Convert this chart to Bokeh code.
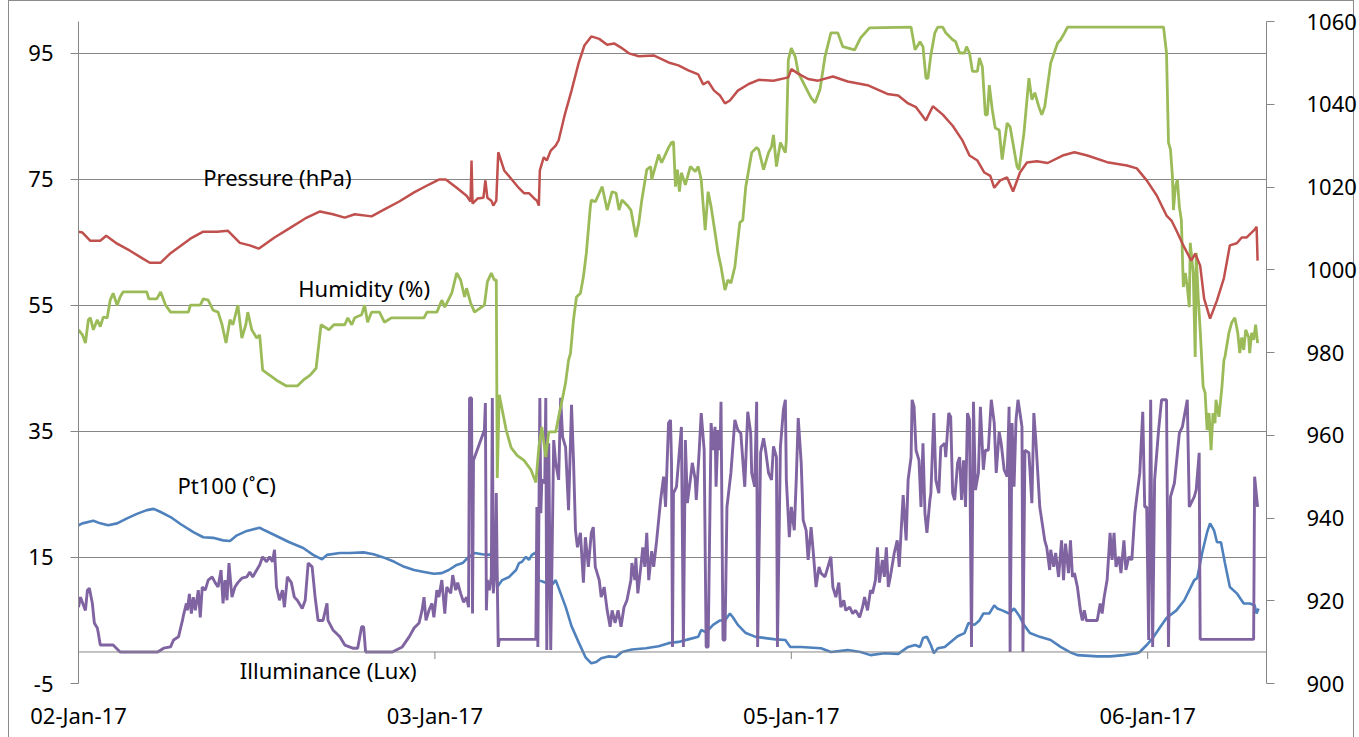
from bokeh.plotting import figure
from bokeh.models import (LinearAxis, Range1d, FixedTicker, Span, Label,
                          ColumnDataSource)
from bokeh.embed import file_html
from bokeh.resources import INLINE

# ---------------------------------------------------------------------------
# Logged sensor data, keyed by sample number (category axis).
# ---------------------------------------------------------------------------
date_ticks = [0, 360, 720, 1080]
date_labels = ["02-Jan-17", "03-Jan-17", "05-Jan-17", "06-Jan-17"]

left_ticks = [-5, 15, 35, 55, 75, 95]
right_ticks = [900, 920, 940, 960, 980, 1000, 1020, 1040, 1060]

# Pressure (hPa), secondary axis
pressure = [
    (0, 1009.2), (4, 1009.0), (12, 1007.0), (22, 1007.0), (28, 1008.2), (39, 1006.3),
    (52, 1004.6), (65, 1002.7), (72, 1001.7), (83, 1001.7), (93, 1004.0), (113, 1007.5),
    (126, 1009.2), (140, 1009.2), (151, 1009.4), (163, 1006.5), (173, 1005.9), (182, 1005.1),
    (198, 1007.8), (213, 1010.0), (229, 1012.4), (244, 1014.1), (257, 1013.4), (269, 1012.6),
    (279, 1013.4), (296, 1012.9), (309, 1014.6), (324, 1016.5), (339, 1018.7), (354, 1020.6),
    (364, 1021.8), (371, 1021.8), (382, 1019.8), (392, 1017.9), (396, 1016.5), (397, 1026.4),
    (398, 1016.0), (403, 1017.2), (409, 1017.4), (411, 1021.6), (413, 1017.4), (417, 1016.7),
    (419, 1015.5), (422, 1016.7), (424, 1028.4), (430, 1024.0), (437, 1022.0), (445, 1019.7),
    (450, 1018.5), (455, 1018.5), (460, 1017.3), (463, 1016.7), (465, 1015.5), (466, 1024.0),
    (470, 1027.2), (473, 1026.4), (477, 1028.8), (482, 1030.0), (485, 1031.3), (491, 1037.3),
    (498, 1043.3), (505, 1049.8), (511, 1054.2), (518, 1056.4), (526, 1055.8), (534, 1054.4),
    (541, 1054.7), (548, 1053.7), (556, 1052.3), (566, 1051.6), (581, 1051.8), (596, 1050.1),
    (606, 1049.4), (616, 1048.2), (626, 1047.2), (631, 1044.8), (636, 1045.5), (642, 1043.3),
    (648, 1042.1), (653, 1040.2), (658, 1040.9), (666, 1043.3), (677, 1044.9), (687, 1045.9),
    (702, 1045.7), (717, 1046.5), (720, 1048.5), (727, 1047.4), (737, 1046.1), (747, 1045.7),
    (762, 1046.7), (777, 1045.5), (797, 1044.6), (817, 1042.5), (828, 1042.1), (838, 1040.2),
    (846, 1039.3), (856, 1036.1), (863, 1039.5), (873, 1037.5), (883, 1034.8), (893, 1031.2),
    (900, 1027.6), (908, 1026.4), (915, 1023.5), (921, 1022.7), (925, 1019.8), (931, 1021.6),
    (938, 1022.3), (944, 1018.9), (951, 1023.5), (958, 1025.9), (968, 1026.2), (979, 1025.8),
    (994, 1027.6), (1006, 1028.4), (1019, 1027.6), (1039, 1026.0), (1059, 1025.2), (1069, 1024.5),
    (1079, 1021.6), (1089, 1018.0), (1099, 1013.1), (1104, 1011.9), (1109, 1009.5), (1117, 1005.4),
    (1124, 1002.2), (1128, 1003.9), (1133, 1001.0), (1137, 993.0), (1143, 988.2), (1150, 992.6),
    (1157, 998.0), (1163, 1005.9), (1170, 1006.4), (1175, 1007.8), (1180, 1007.8), (1188, 1009.7),
    (1190, 1010.4), (1191, 1002.2),
]

# Relative humidity (%)
humidity = [
    (0, 51.1), (4, 50.3), (7, 49.0), (10, 52.7), (12, 53.0), (15, 51.1), (19, 52.7), (22, 51.6),
    (25, 53.1), (29, 53.0), (32, 55.8), (35, 56.9), (39, 55.0), (42, 56.3), (45, 57.1), (69, 57.1),
    (71, 56.0), (79, 56.0), (83, 57.1), (88, 55.0), (93, 53.9), (111, 53.9), (113, 55.0), (123, 55.0),
    (126, 56.0), (131, 55.8), (136, 54.2), (141, 53.9), (145, 51.9), (149, 49.0), (153, 52.7),
    (156, 51.9), (161, 55.0), (165, 49.8), (169, 51.9), (171, 53.9), (175, 51.1), (180, 49.8),
    (183, 50.3), (186, 44.7), (193, 43.9), (200, 43.1), (210, 42.2), (221, 42.2), (227, 43.1),
    (234, 43.9), (240, 45.0), (245, 51.9), (253, 51.1), (258, 51.9), (269, 51.9), (272, 53.0),
    (276, 51.9), (279, 53.0), (286, 53.5), (289, 55.0), (292, 52.3), (296, 53.9), (304, 53.9),
    (309, 52.3), (316, 53.0), (349, 53.0), (352, 53.9), (362, 53.9), (367, 55.8), (370, 54.7),
    (377, 56.9), (382, 60.1), (386, 59.0), (390, 56.3), (392, 57.7), (396, 55.4), (400, 53.9),
    (410, 55.0), (413, 58.7), (417, 60.1), (420, 59.0), (422, 59.0), (423, 27.6), (425, 40.8),
    (432, 35.2), (437, 32.4), (443, 31.2), (450, 30.4), (457, 28.9), (462, 26.9), (465, 32.5),
    (468, 35.7), (472, 30.9), (475, 34.9), (482, 34.9), (485, 37.3), (490, 41.1), (492, 42.7),
    (495, 46.3), (497, 47.4), (500, 52.7), (503, 56.3), (507, 56.9), (510, 59.5), (513, 63.3),
    (517, 70.6), (518, 71.7), (522, 71.4), (529, 73.8), (534, 70.1), (539, 73.0), (543, 72.8),
    (546, 70.1), (549, 71.7), (554, 70.9), (558, 70.1), (563, 65.8), (566, 68.1), (569, 71.7),
    (574, 76.5), (578, 77.0), (579, 74.9), (586, 78.9), (589, 77.6), (596, 80.0), (599, 80.8),
    (601, 80.9), (603, 73.8), (605, 76.5), (607, 73.0), (609, 76.0), (613, 74.1), (618, 77.0),
    (623, 76.2), (626, 77.0), (629, 74.9), (633, 66.9), (636, 73.0), (639, 70.6), (643, 66.5),
    (646, 63.3), (649, 61.1), (653, 57.4), (656, 59.0), (659, 58.5), (663, 61.1), (668, 68.1),
    (671, 68.5), (674, 73.8), (680, 79.2), (685, 80.0), (687, 79.7), (692, 76.5), (697, 79.2),
    (700, 80.1), (702, 82.0), (705, 77.0), (709, 80.8), (714, 79.2), (715, 81.2), (717, 93.9),
    (720, 95.8), (724, 94.4), (727, 91.9), (734, 89.7), (740, 87.9), (744, 87.1), (749, 89.2),
    (754, 94.4), (760, 98.2), (767, 98.2), (772, 96.0), (784, 95.5), (790, 97.4), (799, 99.0),
    (841, 99.1), (845, 95.5), (850, 96.8), (853, 96.0), (856, 91.0), (858, 91.0), (861, 94.7),
    (865, 98.2), (868, 99.1), (873, 99.1), (876, 98.2), (883, 97.1), (886, 96.8), (890, 95.0),
    (895, 95.0), (897, 96.0), (900, 95.0), (903, 92.1), (908, 92.1), (910, 94.2), (913, 92.8),
    (916, 85.2), (918, 85.2), (920, 89.9), (923, 86.0), (926, 83.1), (930, 82.8), (933, 78.1),
    (938, 83.9), (941, 83.3), (945, 79.7), (948, 77.0), (950, 76.5), (955, 82.3), (960, 91.0),
    (963, 87.6), (966, 88.7), (970, 86.5), (973, 85.2), (976, 86.5), (982, 93.4), (989, 96.6),
    (992, 97.1), (996, 98.2), (999, 99.1), (1096, 99.1), (1099, 95.0), (1101, 80.8), (1103, 79.7),
    (1105, 75.4), (1106, 70.1), (1108, 73.8), (1110, 74.9), (1112, 70.6), (1114, 68.5),
    (1116, 57.9), (1118, 60.1), (1120, 57.9), (1122, 54.7), (1123, 64.9), (1126, 60.1),
    (1128, 46.8), (1129, 63.3), (1131, 56.3), (1133, 51.1), (1136, 42.1), (1138, 41.1),
    (1140, 35.2), (1142, 37.9), (1144, 32.0), (1146, 37.9), (1148, 36.3), (1149, 40.0),
    (1152, 37.3), (1155, 42.1), (1157, 46.3), (1158, 46.8), (1162, 50.6), (1165, 52.3),
    (1168, 53.0), (1171, 50.6), (1173, 47.4), (1175, 49.9), (1177, 47.9), (1179, 51.1),
    (1182, 49.9), (1183, 47.4), (1185, 50.6), (1187, 49.5), (1189, 51.9), (1191, 49.0),
]

# Pt100 temperature (deg C)
pt100 = [
    (0, 20.1), (4, 20.4), (15, 20.8), (22, 20.4), (30, 20.1), (39, 20.4), (49, 21.2), (59, 21.9),
    (69, 22.5), (76, 22.7), (83, 22.2), (93, 21.4), (103, 20.3), (116, 19.0), (126, 18.2),
    (136, 18.1), (146, 17.7), (153, 17.6), (160, 18.5), (170, 19.2), (183, 19.7), (188, 19.3),
    (200, 18.4), (213, 17.4), (227, 16.5), (237, 15.4), (246, 14.7), (251, 15.4), (264, 15.7),
    (274, 15.7), (288, 15.8), (298, 15.5), (308, 15.0), (319, 14.3), (329, 13.5), (339, 13.0),
    (349, 12.7), (359, 12.4), (367, 12.5), (374, 13.0), (382, 13.8), (388, 14.1), (393, 14.9),
    (400, 15.7), (408, 15.5), (415, 15.4), (418, 15.8), (422, 15.6), (423, 10.3), (428, 11.4),
    (435, 11.9), (442, 13.0), (445, 14.1), (448, 14.3), (452, 15.1), (455, 14.6), (458, 15.4),
    (462, 15.8), (465, 11.4), (470, 11.1), (475, 10.8), (478, 10.6), (482, 11.4), (492, 7.2),
    (498, 4.1), (505, 1.6), (512, -0.8), (518, -1.8), (523, -1.6), (528, -1.0), (535, -0.7),
    (543, -0.8), (549, 0.0), (559, 0.4), (573, 0.6), (586, 0.9), (596, 1.4), (606, 1.6),
    (616, 2.0), (626, 2.4), (629, 3.5), (634, 3.1), (641, 4.3), (648, 5.0), (653, 5.0),
    (658, 6.1), (661, 5.5), (666, 4.3), (674, 3.0), (684, 2.4), (694, 2.2), (704, 2.0),
    (714, 1.9), (719, 0.8), (730, 0.8), (750, 0.6), (760, 0.0), (777, 0.3), (790, 0.0),
    (800, -0.5), (814, -0.2), (828, -0.3), (838, 0.8), (845, 1.1), (850, 0.8), (853, 2.2),
    (857, 2.4), (861, 1.1), (864, -0.2), (868, 0.6), (875, 0.8), (881, 1.6), (888, 2.5),
    (895, 3.0), (899, 4.6), (905, 4.3), (910, 5.0), (914, 6.1), (920, 6.1), (925, 7.4),
    (928, 6.9), (933, 6.6), (940, 6.1), (945, 6.9), (950, 5.8), (955, 4.3), (961, 3.0),
    (971, 2.4), (982, 1.9), (992, 0.8), (1001, 0.0), (1009, -0.5), (1029, -0.7), (1042, -0.7),
    (1056, -0.5), (1069, -0.2), (1072, 0.0), (1079, 1.1), (1086, 2.4), (1092, 3.8), (1099, 5.4),
    (1109, 6.6), (1117, 8.2), (1127, 11.4), (1130, 11.7), (1135, 15.7), (1140, 19.0),
    (1143, 20.4), (1147, 19.3), (1150, 17.4), (1154, 17.4), (1158, 14.1), (1163, 10.3),
    (1170, 9.3), (1177, 7.7), (1183, 7.7), (1188, 7.4), (1190, 6.1), (1192, 6.9),
]

# Illuminance (scaled lux)
illuminance = [
    (0, 7.1), (2, 8.7), (5, 7.4), (7, 6.6), (9, 9.8), (11, 10.1), (14, 7.7), (16, 4.6), (19, 3.8),
    (20, 3.0), (22, 1.1), (35, 1.1), (42, 0.0), (80, 0.0), (86, 0.6), (93, 0.8), (96, 1.9),
    (101, 2.4), (105, 5.0), (106, 5.8), (109, 7.7), (110, 6.6), (112, 9.2), (114, 6.1), (116, 8.7),
    (118, 6.6), (121, 9.8), (123, 5.5), (125, 10.3), (128, 9.8), (131, 11.4), (135, 11.9),
    (138, 11.0), (141, 10.3), (144, 13.0), (146, 7.7), (148, 11.4), (150, 8.2), (152, 14.1),
    (155, 8.7), (158, 10.3), (161, 11.0), (165, 11.7), (170, 11.9), (173, 12.7), (176, 11.9),
    (180, 13.0), (183, 13.8), (186, 15.1), (190, 14.3), (193, 15.1), (196, 14.3), (198, 16.2),
    (200, 10.3), (203, 8.2), (206, 9.8), (208, 7.1), (211, 11.9), (215, 11.0), (218, 8.7),
    (221, 8.2), (226, 6.9), (229, 8.2), (232, 14.1), (236, 13.5), (239, 8.7), (242, 5.0),
    (247, 5.0), (251, 7.7), (252, 5.0), (257, 3.5), (264, 2.4), (269, 1.1), (277, 0.6),
    (282, 0.6), (286, 4.0), (288, 4.0), (290, 0.0), (317, 0.0), (327, 0.8), (334, 2.4),
    (339, 3.8), (344, 4.6), (347, 6.6), (349, 8.7), (351, 5.0), (354, 6.6), (357, 7.7),
    (359, 5.5), (362, 9.8), (364, 8.7), (367, 11.4), (370, 6.1), (372, 10.3), (376, 9.3),
    (378, 12.2), (381, 9.8), (383, 11.0), (386, 9.3), (389, 7.9), (392, 8.7), (394, 7.1),
    (395, 40.3), (397, 40.3), (398, 6.1), (399, 30.4), (410, 35.2), (411, 39.5), (412, 6.6),
    (413, 11.4), (415, 9.8), (417, 11.9), (418, 40.3), (419, 9.3), (421, 13.5), (422, 25.2),
    (423, 11.4), (424, 0.8), (425, 2.0), (462, 2.0), (463, 23.0), (464, 0.8), (466, 40.3),
    (467, 22.0), (468, 27.3), (471, 26.8), (472, 40.3), (473, 0.3), (475, 33.1), (477, 0.3),
    (480, 33.6), (482, 30.0), (485, 27.3), (487, 40.3), (489, 34.1), (492, 32.5), (495, 22.5),
    (498, 39.2), (500, 30.4), (502, 19.3), (504, 16.6), (507, 18.9), (510, 11.0), (512, 18.2),
    (515, 13.5), (518, 18.9), (520, 19.8), (522, 13.5), (526, 11.4), (528, 8.7), (531, 10.3),
    (534, 6.6), (537, 4.0), (539, 6.6), (542, 4.6), (545, 6.6), (548, 4.0), (551, 7.1),
    (554, 8.2), (558, 11.4), (559, 14.1), (562, 11.4), (563, 14.9), (565, 9.3), (568, 13.5),
    (570, 16.6), (572, 13.5), (574, 18.9), (576, 11.4), (579, 16.0), (581, 13.5), (584, 17.7),
    (588, 24.1), (591, 27.8), (593, 23.0), (596, 36.3), (598, 36.8), (599, 30.0), (600, 0.8),
    (601, 25.2), (604, 26.2), (609, 35.7), (611, 0.8), (613, 33.6), (615, 23.6), (618, 27.3),
    (620, 30.0), (623, 27.3), (624, 24.1), (627, 32.0), (629, 37.9), (632, 32.0), (634, 0.8),
    (636, 0.8), (639, 36.3), (641, 32.0), (643, 35.7), (644, 26.2), (646, 35.2), (648, 32.0),
    (649, 39.7), (651, 1.9), (653, 1.9), (655, 23.0), (659, 28.4), (663, 36.8), (666, 35.2),
    (669, 34.7), (673, 26.2), (676, 38.1), (679, 34.7), (680, 28.4), (683, 26.2), (685, 39.7),
    (686, 0.8), (689, 31.6), (692, 33.9), (694, 32.0), (697, 28.4), (700, 27.3), (702, 32.6),
    (705, 30.9), (706, 0.8), (709, 32.5), (712, 38.4), (714, 40.0), (715, 27.3), (718, 18.2),
    (720, 23.0), (723, 19.3), (725, 27.3), (727, 37.1), (730, 30.0), (732, 20.9), (735, 19.3),
    (737, 14.6), (740, 19.8), (742, 16.2), (745, 10.3), (748, 13.5), (750, 12.5), (754, 11.9),
    (757, 13.5), (760, 15.1), (762, 10.3), (765, 8.7), (768, 11.0), (770, 7.1), (773, 8.2),
    (775, 6.6), (779, 7.1), (782, 6.1), (785, 6.6), (789, 5.5), (792, 7.1), (794, 8.7),
    (797, 6.6), (800, 9.8), (802, 9.3), (805, 11.4), (807, 16.6), (809, 11.0), (812, 14.6),
    (814, 11.9), (816, 16.6), (818, 10.3), (820, 11.9), (824, 15.7), (827, 17.7), (829, 13.5),
    (831, 19.3), (833, 24.9), (836, 17.7), (838, 27.3), (841, 30.9), (842, 40.0), (844, 38.9),
    (846, 32.0), (849, 30.4), (851, 23.0), (853, 33.1), (855, 22.0), (857, 18.9), (860, 24.1),
    (861, 25.2), (864, 37.9), (866, 27.3), (869, 25.2), (871, 32.5), (875, 33.1), (876, 30.9),
    (879, 37.9), (881, 37.3), (883, 25.2), (885, 24.1), (888, 30.0), (890, 30.9), (892, 24.1),
    (894, 30.4), (896, 23.0), (898, 37.9), (900, 36.8), (902, 0.8), (904, 39.7), (906, 25.7),
    (909, 28.4), (911, 38.9), (914, 28.9), (916, 32.0), (919, 32.0), (922, 40.0), (925, 36.3),
    (927, 28.4), (930, 34.9), (932, 33.1), (935, 28.9), (938, 27.8), (940, 38.9), (941, 0.0),
    (943, 36.3), (945, 26.2), (947, 36.8), (949, 40.0), (951, 37.9), (953, 35.7), (954, 0.0),
    (956, 32.0), (960, 31.6), (963, 23.6), (965, 37.9), (967, 33.6), (971, 23.0), (976, 17.7),
    (978, 16.6), (981, 13.0), (982, 16.2), (985, 13.5), (987, 15.7), (990, 11.9), (993, 17.7),
    (995, 11.4), (997, 17.2), (1000, 12.5), (1002, 17.7), (1004, 11.9), (1006, 12.5),
    (1009, 10.3), (1012, 6.6), (1014, 5.0), (1016, 6.6), (1018, 5.0), (1029, 5.0), (1032, 7.7),
    (1034, 6.1), (1036, 8.7), (1039, 11.4), (1042, 18.9), (1044, 14.6), (1046, 18.9),
    (1048, 13.5), (1051, 15.1), (1053, 12.5), (1056, 17.7), (1058, 13.0), (1061, 15.1),
    (1064, 14.6), (1067, 22.0), (1069, 24.6), (1072, 28.4), (1075, 38.1), (1077, 23.0),
    (1079, 23.0), (1081, 1.9), (1083, 40.0), (1085, 0.8), (1087, 27.3), (1091, 35.2),
    (1094, 40.0), (1097, 40.0), (1099, 40.0), (1101, 0.8), (1103, 24.6), (1107, 26.8),
    (1112, 34.7), (1115, 35.7), (1120, 40.0), (1122, 23.0), (1127, 24.6), (1129, 25.7),
    (1132, 31.6), (1133, 2.0), (1187, 2.0), (1188, 27.8), (1191, 23.0),
]


def to_source(pairs):
    return ColumnDataSource(data=dict(x=[a for a, _ in pairs], y=[b for _, b in pairs]))


FONT = "Noto Sans"
GREY = "#868686"
BORDER = "#8c8c8c"
LEFT_RANGE = (-5, 100)
RIGHT_RANGE = (900, 1060)

# Chart-area border painted behind the (transparent) canvas margins
border_css = (
    f"linear-gradient({BORDER},{BORDER}) 8px 0 / 1px 100% no-repeat, "
    f"linear-gradient({BORDER},{BORDER}) 1353px 0 / 1px 100% no-repeat, "
    f"linear-gradient({BORDER},{BORDER}) 8px 0 / 1346px 1px no-repeat, "
    "#ffffff"
)

p = figure(width=1359, height=737, output_backend="svg", toolbar_location=None,
           x_range=Range1d(0, 1200), y_range=Range1d(*LEFT_RANGE),
           min_border_left=78, min_border_right=89, min_border_top=21, min_border_bottom=54,
           background_fill_color="white", border_fill_color=None,
           styles={"background": border_css})
p.outline_line_color = None
p.extra_y_ranges = {"pressure": Range1d(*RIGHT_RANGE)}

# Left (primary) axis
yax = p.yaxis[0]
yax.ticker = FixedTicker(ticks=left_ticks)
yax.major_label_overrides = {t: str(t) for t in left_ticks}
p.ygrid.ticker = FixedTicker(ticks=left_ticks)
p.ygrid.grid_line_color = GREY
p.ygrid.grid_line_width = 1
p.xgrid.visible = False

# Right (secondary) axis for pressure
rax = LinearAxis(y_range_name="pressure", ticker=FixedTicker(ticks=right_ticks))
p.add_layout(rax, "right")

for ax in (yax, rax):
    ax.axis_line_color = GREY
    ax.major_tick_line_color = GREY
    ax.major_tick_out = 8
    ax.major_tick_in = 0
    ax.minor_tick_line_color = None
    ax.major_label_text_font = FONT
    ax.major_label_text_font_size = "22px"
    ax.major_label_text_color = "black"
yax.major_label_standoff = 17
rax.major_label_standoff = 32

# Date labels along the bottom
xax = p.xaxis[0]
xax.ticker = FixedTicker(ticks=date_ticks)
xax.major_label_overrides = {t: lab for t, lab in zip(date_ticks, date_labels)}
xax.axis_line_color = None
xax.major_tick_line_color = None
xax.minor_tick_line_color = None
xax.major_tick_out = 0
xax.major_label_standoff = 16
xax.major_label_text_font = FONT
xax.major_label_text_font_size = "22px"
xax.major_label_text_color = "black"

# Category axis line crossing at zero, with downward tick marks
p.add_layout(Span(location=0, dimension="width", line_color=GREY, line_width=1))
tick_len = 7 * (LEFT_RANGE[1] - LEFT_RANGE[0]) / 662.0
p.segment(x0=date_ticks[1:], y0=[0] * 3, x1=date_ticks[1:], y1=[-tick_len] * 3,
          line_color=GREY, line_width=1)

# Series
p.line("x", "y", source=to_source(pt100), line_color="#4F81BD", line_width=2.6)
p.line("x", "y", source=to_source(illuminance), line_color="#8064A2", line_width=2.9)
p.line("x", "y", source=to_source(humidity), line_color="#9BBB59", line_width=2.8)
p.line("x", "y", source=to_source(pressure), line_color="#C0504D", line_width=2.5,
       y_range_name="pressure")

# In-chart series names
for text, x, y in [("Pressure (hPa)", 126, 75.4), ("Humidity (%)", 222, 57.8),
                   ("Pt100 (˚C)", 100, 26.5), ("Illuminance (Lux)", 163, -2.8)]:
    p.add_layout(Label(x=x, y=y, text=text, text_font=FONT, text_font_size="22px",
                       text_color="black", text_align="left", text_baseline="alphabetic"))

open("out.html", "w").write(file_html(p, INLINE))
